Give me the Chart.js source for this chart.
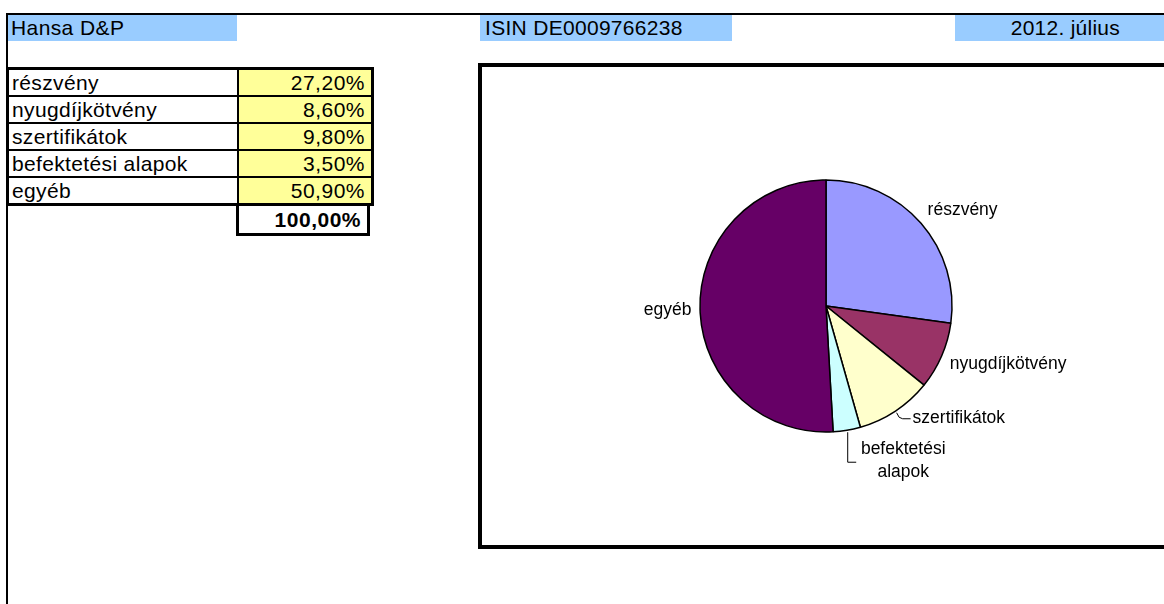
<!DOCTYPE html>
<html>
<head>
  <meta charset="UTF-8">
  <title>Hansa D&amp;P</title>
  <script src="https://cdn.jsdelivr.net/npm/chart.js"></script>
  <style>
    body { margin: 0; width: 1164px; height: 604px; overflow: hidden; background: #fff;
           font-family: "Liberation Sans", Arial, sans-serif; color: #000; position: relative; }
    .abs { position: absolute; }
    .hline { left: 6px; top: 13px; width: 1158px; height: 2px; background: #000; }
    .vline { left: 6px; top: 13px; width: 2px; height: 591px; background: #000; }
    .head { top: 15px; height: 26px; line-height: 26px; background: #99ccff; font-size: 21px; white-space: nowrap; }
    #tbl { left: 6px; top: 67px; border-collapse: collapse; border: 3px solid #000; }
    #tbl td { border: 2px solid #000; height: 25px; padding: 0 3px; font-size: 21px; line-height: 25px;
              white-space: nowrap; letter-spacing: 0.35px; }
    #tbl td.lab { width: 222px; }
    #tbl td.val { width: 123px; background: #ffff99; text-align: right; letter-spacing: 0.5px; padding-right: 6px; }
    #total { left: 236px; top: 203px; width: 122px; height: 27px; line-height: 27px; border: 3px solid #000;
             font-size: 21px; font-weight: bold; text-align: right; padding-right: 6px; letter-spacing: 0.5px; }
    #box { left: 478px; top: 63px; width: 700px; height: 478px; border: 4px solid #000; }
    #chartWrap { left: 482px; top: 67px; width: 682px; height: 478px; }
  </style>
</head>
<body>
  <div class="abs hline"></div>
  <div class="abs vline"></div>
  <div class="abs head" id="h1" style="left:8px;width:226px;padding-left:3px;letter-spacing:0.4px;"></div>
  <div class="abs head" id="h2" style="left:480px;width:247px;padding-left:5px;letter-spacing:0.3px;"></div>
  <div class="abs head" id="h3" style="left:955px;width:165px;padding-right:44px;text-align:right;letter-spacing:0.25px;"></div>

  <table class="abs" id="tbl"></table>
  <div class="abs" id="total"></div>

  <div class="abs" id="box"></div>
  <div class="abs" id="chartWrap"><canvas id="pie" width="682" height="478"></canvas></div>

  <script>
    const fundName = "Hansa D&P";
    const isinText = "ISIN DE0009766238";
    const period = "2012. július";

    const categories = ["részvény", "nyugdíjkötvény", "szertifikátok", "befektetési alapok", "egyéb"];
    const shares = [27.2, 8.6, 9.8, 3.5, 50.9];
    const sliceColors = ["#9999ff", "#993366", "#ffffcc", "#ccffff", "#660066"];

    function pct(v) { return v.toFixed(2).replace(".", ",") + "%"; }

    document.getElementById("h1").textContent = fundName;
    document.getElementById("h2").textContent = isinText;
    document.getElementById("h3").textContent = period;

    let rows = "";
    categories.forEach((c, i) => {
      rows += `<tr><td class="lab">${c}</td><td class="val">${pct(shares[i])}</td></tr>`;
    });
    document.getElementById("tbl").innerHTML = rows;
    const sum = shares.reduce((a, b) => a + b, 0);
    document.getElementById("total").textContent = pct(sum);

    // how each slice label is placed (Excel moved two of them and drew leader lines)
    const labelMode = { "szertifikátok": "elbow", "befektetési alapok": "drop" };

    const sliceLabels = {
      id: "sliceLabels",
      afterDatasetsDraw(chart) {
        const ctx = chart.ctx;
        const meta = chart.getDatasetMeta(0);
        ctx.save();
        ctx.font = "17.5px 'Liberation Sans', Arial, sans-serif";
        ctx.fillStyle = "#000";
        ctx.strokeStyle = "#000";
        ctx.lineWidth = 1;
        ctx.textBaseline = "middle";
        meta.data.forEach((arc, i) => {
          const p = arc.getProps(["x", "y", "startAngle", "endAngle", "outerRadius"], true);
          const mid = (p.startAngle + p.endAngle) / 2;
          const cos = Math.cos(mid), sin = Math.sin(mid);
          const name = categories[i];
          const mode = labelMode[name] || "outside";
          if (mode === "outside") {
            const lx = p.x + (p.outerRadius + 10) * cos;
            const ly = p.y + (p.outerRadius + 10) * sin;
            ctx.textAlign = cos >= 0 ? "left" : "right";
            ctx.fillText(name, lx - (cos >= 0 ? 1 : -1.5), ly + sin * 10);
          } else if (mode === "elbow") {
            const px = p.x + (p.outerRadius + 2) * cos;
            const py = p.y + (p.outerRadius + 2) * sin;
            ctx.beginPath();
            ctx.moveTo(px, py);
            ctx.quadraticCurveTo(px + 2, py + 6, px + 6, py + 6);
            ctx.lineTo(px + 14, py + 6);
            ctx.stroke();
            ctx.textAlign = "left";
            ctx.fillText(name, px + 16, py + 5);
          } else {
            const px = p.x + (p.outerRadius + 2) * cos;
            const py = p.y + (p.outerRadius + 2) * sin;
            ctx.beginPath();
            ctx.moveTo(px + 0.5, py);
            ctx.lineTo(px + 0.5, py + 30);
            ctx.lineTo(px + 9, py + 30);
            ctx.stroke();
            ctx.textAlign = "center";
            const parts = name.split(" ");
            parts.forEach((t, k) => ctx.fillText(t, px + 56, py + 17 + k * 23));
          }
        });
        ctx.restore();
      }
    };

    new Chart(document.getElementById("pie").getContext("2d"), {
      type: "pie",
      data: {
        labels: categories,
        datasets: [{
          data: shares,
          backgroundColor: sliceColors,
          borderColor: "#000",
          borderWidth: 1.5,
          radius: 126
        }]
      },
      options: {
        responsive: false,
        animation: false,
        events: [],
        layout: { padding: { left: 6 } },
        plugins: { legend: { display: false }, tooltip: { enabled: false } }
      },
      plugins: [sliceLabels]
    });
  </script>
</body>
</html>
